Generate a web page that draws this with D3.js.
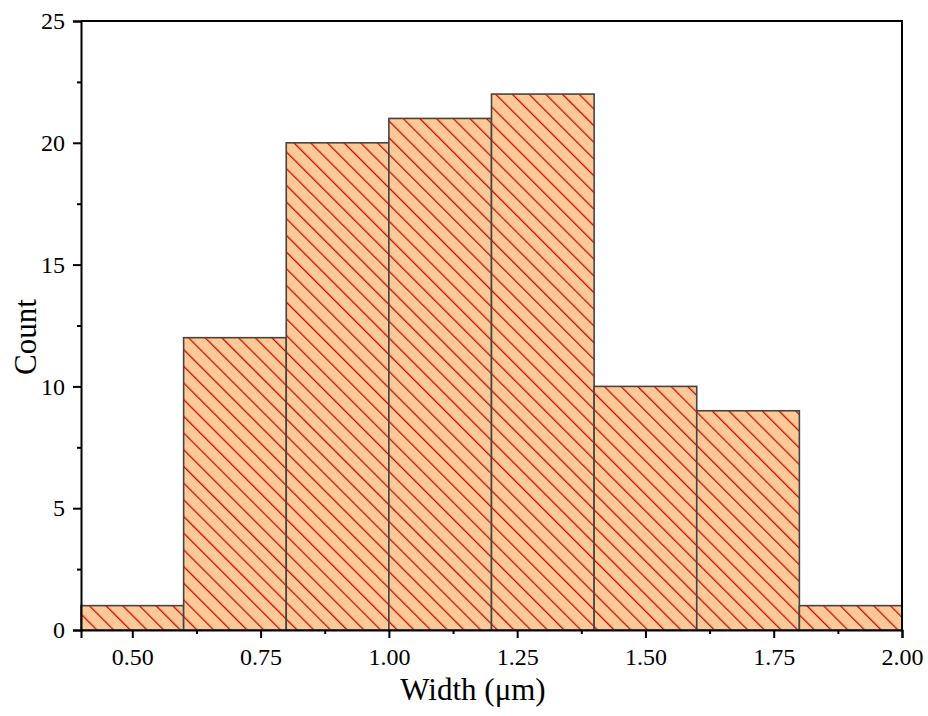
<!DOCTYPE html>
<html>
<head>
<meta charset="utf-8">
<script src="https://cdn.jsdelivr.net/npm/d3@7"></script>
<style>
  body { margin: 0; background: #fff; }
  svg { display: block; }
  text { font-family: "Liberation Serif", "Times New Roman", serif; fill: #000; }
</style>
</head>
<body>
<svg id="chart" width="928" height="716"></svg>
<script>
// Histogram bins of measured widths (µm)
const binStarts = [0.4, 0.6, 0.8, 1.0, 1.2, 1.4, 1.6, 1.8];
const binEnds   = [0.6, 0.8, 1.0, 1.2, 1.4, 1.6, 1.8, 2.0];
const counts    = [1, 12, 20, 21, 22, 10, 9, 1];
const xTicks = [0.50, 0.75, 1.00, 1.25, 1.50, 1.75, 2.00];
const yTicks = [0, 5, 10, 15, 20, 25];

const svg = d3.select("#chart");
const m = { left: 81, right: 902, top: 21, bottom: 630 };

const x = d3.scaleLinear().domain([0.4, 2.0]).range([m.left, m.right]);
const y = d3.scaleLinear().domain([0, 25]).range([m.bottom, m.top]);

// back-slash hatch over a light orange fill
const defs = svg.append("defs");
const step = 11.8;
const pat = defs.append("pattern")
  .attr("id", "hatch")
  .attr("patternUnits", "userSpaceOnUse")
  .attr("width", step).attr("height", step)
  .attr("patternTransform", "rotate(-45)");
pat.append("rect").attr("width", step).attr("height", step).attr("fill", "#FDC997");
pat.append("line")
  .attr("x1", 0).attr("y1", 0).attr("x2", 0).attr("y2", step)
  .attr("stroke", "#CC0A0A").attr("stroke-width", 2.6);

const data = counts.map((c, i) => ({ x0: binStarts[i], x1: binEnds[i], c }));

svg.append("g").selectAll("rect")
  .data(data).join("rect")
  .attr("x", d => x(d.x0))
  .attr("y", d => y(d.c))
  .attr("width", d => x(d.x1) - x(d.x0))
  .attr("height", d => y(0) - y(d.c))
  .attr("fill", "url(#hatch)")
  .attr("stroke", "#444")
  .attr("stroke-width", 1.6);

// frame: top and right edges
svg.append("path")
  .attr("d", `M${m.left},${m.top}H${m.right}V${m.bottom}`)
  .attr("fill", "none").attr("stroke", "#000").attr("stroke-width", 2);

// bottom axis
const xAxis = svg.append("g").attr("transform", `translate(0,${m.bottom})`)
  .call(d3.axisBottom(x).tickValues(xTicks).tickFormat(d3.format(".2f")).tickSize(8).tickPadding(10));
xAxis.selectAll(".tick text").attr("font-size", 24);
svg.append("g").attr("transform", `translate(0,${m.bottom})`)
  .call(d3.axisBottom(x).tickValues(d3.range(0.625, 2.0, 0.25)).tickFormat("").tickSize(4))
  .select(".domain").remove();

// left axis
const yAxis = svg.append("g").attr("transform", `translate(${m.left},0)`)
  .call(d3.axisLeft(y).tickValues(yTicks).tickSize(8).tickPadding(8));
yAxis.selectAll(".tick text").attr("font-size", 24);
svg.append("g").attr("transform", `translate(${m.left},0)`)
  .call(d3.axisLeft(y).tickValues(d3.range(2.5, 25, 5)).tickFormat("").tickSize(4))
  .select(".domain").remove();

svg.selectAll(".domain").attr("stroke", "#000").attr("stroke-width", 2);
svg.selectAll(".tick line").attr("stroke", "#000").attr("stroke-width", 2);

// axis titles
svg.append("text")
  .attr("x", 473).attr("y", 700)
  .attr("text-anchor", "middle").attr("font-size", 31)
  .text("Width (μm)");
svg.append("text")
  .attr("transform", "translate(36,337) rotate(-90)")
  .attr("text-anchor", "middle").attr("font-size", 31)
  .text("Count");
</script>
</body>
</html>
